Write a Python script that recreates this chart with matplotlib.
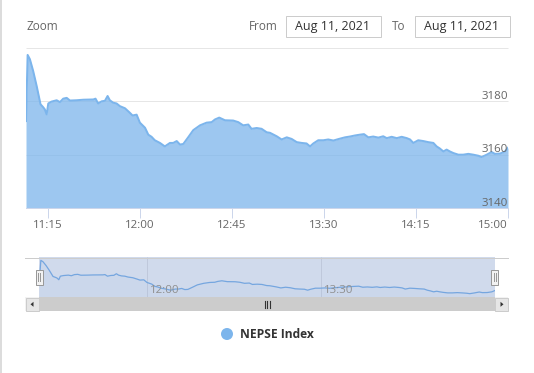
import matplotlib
matplotlib.use("Agg")
import matplotlib.pyplot as plt
from matplotlib.patches import Rectangle, Circle, Polygon
from matplotlib.transforms import offset_copy

# ---------------- data ----------------
# minutes after 11:00 on Aug 11, 2021
times = [4.3, 5.1, 6.2, 7.8, 9.5, 11.4, 12.7, 13.5, 14.4, 15.2,
         16.8, 19.3, 20.9, 22.5, 24.2, 25.8, 29.0, 32.3, 37.2, 38.3,
         39.6, 41.3, 42.9, 44.2, 45.3, 46.9, 48.6, 50.2, 52.7, 55.1,
         56.4, 58.4, 60.0, 62.5, 64.1, 65.7, 67.3, 69.8, 72.2, 74.7,
         76.3, 78.0, 79.6, 81.2, 83.6, 86.1, 89.4, 92.6, 95.1, 96.7,
         98.8, 101.6, 105.6, 108.1, 110.5, 113.0, 114.6, 117.1, 119.5, 122.0,
         123.6, 126.9, 129.3, 131.8, 134.2, 136.7, 139.1, 141.5, 143.2, 144.8,
         147.2, 149.7, 152.1, 154.6, 157.8, 160.3, 162.7, 165.2, 167.6, 169.6,
         171.7, 174.1, 176.6, 179.0, 180.7, 183.1, 185.6, 188.0, 190.5, 192.1,
         193.7, 196.1, 198.6, 201.0, 203.5, 205.1, 206.7, 208.4, 210.0, 211.6,
         213.3, 215.7, 218.1, 220.6, 223.0, 225.5, 227.1, 229.6, 232.0, 233.6,
         236.1, 238.5, 240.0]
nepse = [3172.6, 3197.4, 3195.8, 3191.4, 3185.8, 3178.9, 3177.8, 3177.0, 3175.1, 3179.2,
         3179.9, 3180.4, 3179.7, 3181.0, 3181.3, 3180.3, 3180.4, 3180.6, 3180.7, 3181.0,
         3179.2, 3180.0, 3180.2, 3182.0, 3180.4, 3179.5, 3179.2, 3178.2, 3177.4, 3175.7,
         3174.7, 3175.0, 3172.0, 3170.1, 3167.5, 3166.7, 3165.4, 3164.4, 3163.1, 3164.4,
         3164.4, 3165.1, 3163.8, 3164.0, 3166.5, 3169.2, 3171.0, 3172.0, 3172.2, 3173.2,
         3173.9, 3172.9, 3172.8, 3172.2, 3171.0, 3171.3, 3169.7, 3170.0, 3169.7, 3168.4,
         3168.2, 3166.9, 3165.7, 3166.5, 3165.9, 3164.7, 3164.4, 3164.2, 3163.1, 3164.2,
         3165.4, 3165.4, 3165.7, 3165.3, 3166.0, 3166.5, 3166.8, 3167.2, 3167.5, 3167.7,
         3166.5, 3166.8, 3166.4, 3166.9, 3166.2, 3166.7, 3166.2, 3166.7, 3166.2, 3165.7,
         3164.4, 3165.4, 3165.1, 3164.7, 3164.4, 3163.1, 3162.3, 3161.2, 3161.9, 3161.2,
         3160.6, 3160.0, 3160.0, 3160.3, 3160.0, 3159.6, 3159.1, 3160.0, 3161.0, 3160.3,
         3160.4, 3161.2, 3162.6]

x_ticks = [15, 60, 105, 150, 195, 240]
x_tick_labels = ["11:15", "12:00", "12:45", "13:30", "14:15", "15:00"]
y_ticks = [3140, 3160, 3180, 3200]
y_tick_labels = ["3140", "3160", "3180"]
nav_ticks = [60, 150]
nav_tick_labels = ["12:00", "13:30"]
series_name = "NEPSE Index"
date_from = "Aug 11, 2021"
date_to = "Aug 11, 2021"

# ---------------- style ----------------
W, H, DPI = 534, 373, 100
SERIES = "#7cb5ec"
plt.rcParams['font.family'] = ['Open Sans', 'DejaVu Sans']


def fs(px):
    return px * 0.72


fig = plt.figure(figsize=(W / DPI, H / DPI), dpi=DPI)
fig.patch.set_facecolor("white")


def px_axes(x0, y0, x1, y1):
    return fig.add_axes([x0 / W, 1 - y1 / H, (x1 - x0) / W, (y1 - y0) / H])


# ---------------- main chart ----------------
ax = px_axes(26, 48, 508, 208)
ax.set_facecolor("none")
ax.set_xlim(times[0], times[-1])
ax.set_ylim(y_ticks[0], y_ticks[-1])
ax.hlines(y_ticks, times[0], times[-1], color="#e6e6e6", lw=0.72, zorder=1, clip_on=False)
ax.fill_between(times, nepse, y_ticks[0], color=SERIES, alpha=0.75, lw=0, zorder=2)
ax.plot(times, nepse, color=SERIES, lw=1.44, zorder=3, solid_joinstyle="round")
for sp in ["top", "right", "left"]:
    ax.spines[sp].set_visible(False)
ax.spines["bottom"].set_color("#ccd6eb")
ax.spines["bottom"].set_linewidth(0.72)
ax.spines["bottom"].set_zorder(4)
ax.set_yticks([])
ax.set_xticks(x_ticks, x_tick_labels)
ax.tick_params(axis="x", length=7.2, width=0.72, color="#ccd6eb",
               labelcolor="#666666", labelsize=fs(11.5), pad=1.5)
ax.get_xticklabels()[-1].set_ha("right")
ylab_tr = offset_copy(ax.get_yaxis_transform(), fig=fig, x=0, y=2.5, units="dots")
for v, lab in zip(y_ticks, y_tick_labels):
    ax.text(1.0, v, lab, transform=ylab_tr, ha="right", va="baseline",
            color="#666666", fontsize=fs(11.5), zorder=5)

# ---------------- navigator ----------------
nav = px_axes(39.3, 257, 494.7, 297)
nav.set_facecolor("none")
nav.axis("off")
nav.set_xlim(times[0], times[-1])
rng = max(nepse) - min(nepse)
nav.set_ylim(min(nepse) - 0.1 * rng, max(nepse) + 0.1 * rng)
nav.vlines(nav_ticks, 0, 1, transform=nav.get_xaxis_transform(),
           color="#e6e6e6", lw=0.72, zorder=1)
nav.fill_between(times, nepse, nav.get_ylim()[0], color=SERIES, alpha=0.05, lw=0, zorder=2)
nav.plot(times, nepse, color=SERIES, lw=0.9, zorder=2)
nav.axvspan(times[0], times[-1], color=(102 / 255, 133 / 255, 194 / 255), alpha=0.3, lw=0, zorder=3)
navlab_tr = offset_copy(nav.get_xaxis_transform(), fig=fig, x=3, y=4, units="dots")
for t, lab in zip(nav_ticks, nav_tick_labels):
    nav.text(t, 0, lab, transform=navlab_tr, ha="left", va="baseline",
             color="#8f8f8f", fontsize=fs(11.5), zorder=4)

# ---------------- overlay (pixel coordinates) ----------------
ov = fig.add_axes([0, 0, 1, 1])
ov.set_xlim(0, W)
ov.set_ylim(H, 0)
ov.axis("off")

# container left border
ov.add_patch(Rectangle((0, 0), 1.7, H, fc="#dcdcdc", lw=0))

# range selector
ov.text(26.5, 26.5, "Zoom", ha="left", va="center", color="#666666", fontsize=fs(11.7))
ov.text(277.5, 26.5, "From", ha="right", va="center", color="#666666", fontsize=fs(11.7))
ov.add_patch(Rectangle((285.5, 15.5), 95, 21, fc="white", ec="#cccccc", lw=0.72))
ov.text(332.5, 26.5, date_from, ha="center", va="center", color="#333333", fontsize=fs(12.5))
ov.text(405.5, 26.5, "To", ha="right", va="center", color="#666666", fontsize=fs(11.7))
ov.add_patch(Rectangle((414.5, 15.5), 95, 21, fc="white", ec="#cccccc", lw=0.72))
ov.text(461.5, 26.5, date_to, ha="center", va="center", color="#333333", fontsize=fs(12.5))

# navigator outline
ov.plot([25, 508], [257.5, 257.5], color="#cccccc", lw=0.72)

# handles
for hx in (35.8, 491.2):
    ov.add_patch(Rectangle((hx, 269.5), 7, 15, fc="#f2f2f2", ec="#999999", lw=0.72))
    ov.plot([hx + 2.5, hx + 2.5], [273, 281], color="#999999", lw=0.72)
    ov.plot([hx + 4.5, hx + 4.5], [273, 281], color="#999999", lw=0.72)

# scrollbar
ov.add_patch(Rectangle((25, 297), 483, 14, fc="#f2f2f2", lw=0))
ov.add_patch(Rectangle((39.3, 297), 455.4, 14, fc="#cccccc", lw=0))
ov.add_patch(Rectangle((25.5, 297.5), 13.5, 13.5, fc="#e6e6e6", ec="#cccccc", lw=0.72))
ov.add_patch(Rectangle((494.5, 297.5), 13.5, 13.5, fc="#e6e6e6", ec="#cccccc", lw=0.72))
ov.add_patch(Polygon([(30.5, 304.3), (33.5, 301.8), (33.5, 306.8)], closed=True, fc="#333333", lw=0))
ov.add_patch(Polygon([(503.5, 304.3), (500.5, 301.8), (500.5, 306.8)], closed=True, fc="#333333", lw=0))
for gx in (264.5, 267, 269.5):
    ov.plot([gx, gx], [301, 307.5], color="#333333", lw=0.8)

# legend
ov.add_patch(Circle((227, 334), 6, fc=SERIES, lw=0))
ov.text(240.5, 334.5, series_name, ha="left", va="center", color="#333333",
        fontsize=fs(12), fontweight="bold")

fig.savefig("out.png", dpi=DPI)
